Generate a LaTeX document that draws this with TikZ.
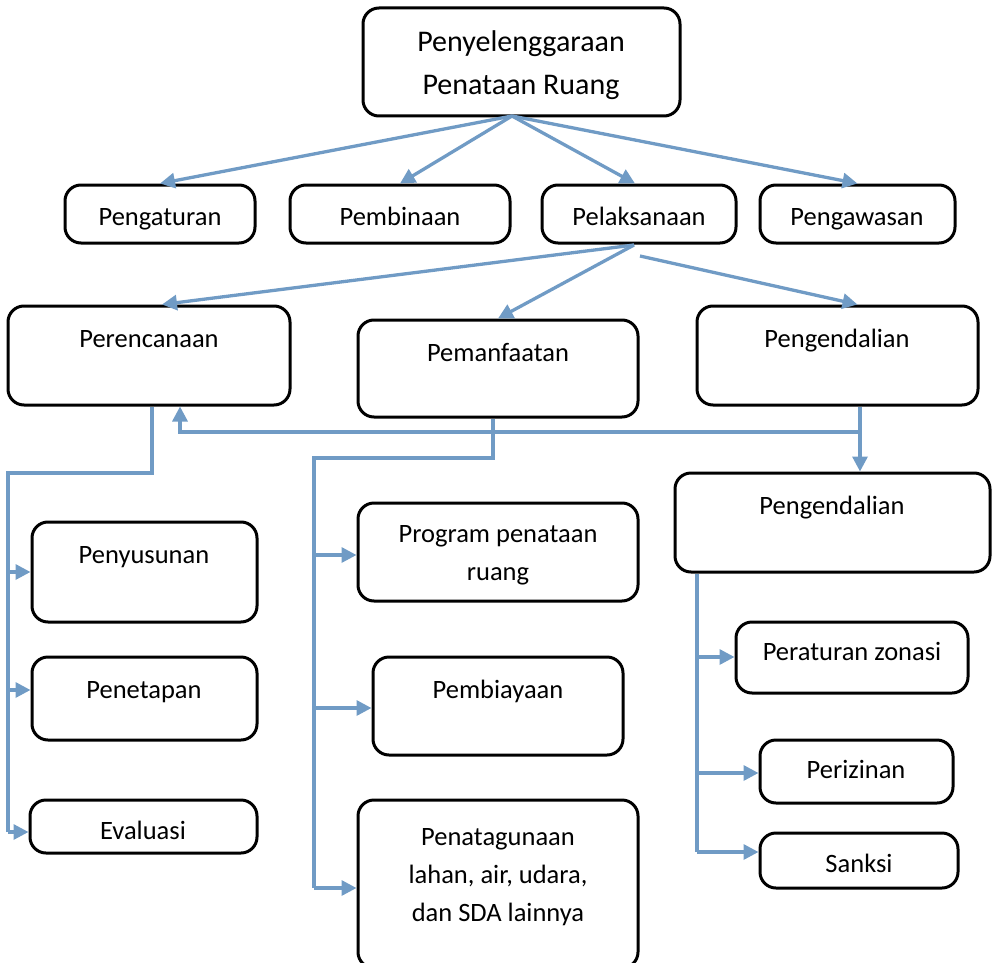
\documentclass[tikz,border=0pt]{standalone}
\usepackage{fontspec}
\setmainfont{Carlito}
\usetikzlibrary{arrows.meta,fit}
\definecolor{lnblue}{RGB}{112,155,197}
\begin{document}
\begin{tikzpicture}[x=1pt,y=-1pt,
  box/.style={draw=black,line width=3pt,rounded corners=16pt,inner sep=0pt},
  txt/.style={font=\fontsize{26.5}{38}\selectfont,align=center,inner sep=0pt,anchor=base},
  conn/.style={draw=lnblue,line width=3.3pt},
  arr/.style={conn,-{Triangle[length=15pt,width=15pt]}}]
\useasboundingbox (0,0) rectangle (998,963);
% boxes
\node[box,fit={(363,8) (680,116)}] (top) {};
\node[txt,font=\fontsize{30}{43}\selectfont] (topt) at (521,95) {Penyelenggaraan\\Penataan Ruang};
\node[box,fit={(65,185) (255,243)}] (atur) {};
\node[txt] (aturt) at (160,225) {Pengaturan};
\node[box,fit={(290,185) (510,243)}] (bina) {};
\node[txt] (binat) at (400,225) {Pembinaan};
\node[box,fit={(542,185) (736,243)}] (laks) {};
\node[txt] (lakst) at (639,225) {Pelaksanaan};
\node[box,fit={(760,185) (955,243)}] (awas) {};
\node[txt] (awast) at (857,225) {Pengawasan};
\node[box,fit={(8,306) (290,405)}] (ren) {};
\node[txt] (rent) at (149,347) {Perencanaan};
\node[box,fit={(358,320) (638,417)}] (man) {};
\node[txt] (mant) at (498,361) {Pemanfaatan};
\node[box,fit={(697,306) (978,405)}] (dal) {};
\node[txt] (dalt) at (837,347) {Pengendalian};
\node[box,fit={(675,473) (990,572)}] (dal2) {};
\node[txt] (dal2t) at (832,514) {Pengendalian};
\node[box,fit={(32,522) (257,622)}] (susun) {};
\node[txt] (susunt) at (144,563) {Penyusunan};
\node[box,fit={(32,657) (257,740)}] (tetap) {};
\node[txt] (tetapt) at (144,698) {Penetapan};
\node[box,fit={(30,800) (257,853)}] (eval) {};
\node[txt] (evalt) at (143,839) {Evaluasi};
\node[box,fit={(358,503) (638,601)}] (prog) {};
\node[txt] (progt) at (498,580) {Program penataan\\ruang};
\node[box,fit={(373,657) (623,755)}] (biaya) {};
\node[txt] (biayat) at (498,698) {Pembiayaan};
\node[box,fit={(358,800) (638,968)}] (guna) {};
\node[txt] (gunat) at (498,921) {Penatagunaan\\lahan, air, udara,\\dan SDA lainnya};
\node[box,fit={(736,622) (968,693)}] (zona) {};
\node[txt] (zonat) at (852,660) {Peraturan zonasi};
\node[box,fit={(760,740) (953,803)}] (izin) {};
\node[txt] (izint) at (856,778) {Perizinan};
\node[box,fit={(760,833) (958,888)}] (sank) {};
\node[txt] (sankt) at (859,872) {Sanksi};
% top arrows
\coordinate (o1) at (512,116);
\draw[arr] (o1) -- (atur.north);
\draw[arr] (o1) -- (bina.north);
\draw[arr] (o1) -- ([xshift=-4pt]laks.north);
\draw[arr] (o1) -- (awas.north);
% second level
\coordinate (o2) at (634,245);
\coordinate (o3) at (640,256);
\draw[arr] (o2) -- ([xshift=13pt]ren.north);
\draw[arr] (o2) -- (man.north);
\draw[arr] (o3) -- ([xshift=20pt]dal.north);
% feedback / pengendalian
\coordinate (j) at (860,432);
\coordinate (k) at (180,432);
\draw[arr] (dal.south -| j) -- (dal2.north -| j);
\draw[arr] (j) -- (k) -- (k |- ren.south);
% left trunk
\coordinate (l0) at (152,473);
\coordinate (l1) at (8,473);
\coordinate (l2) at (8,832);
\draw[conn] (ren.south -| l0) -- (l0) -- (l1) -- (l2);
\coordinate (la) at (8,572);
\coordinate (lb) at (8,690);
\draw[arr] (la) -- (la -| susun.west);
\draw[arr] (lb) -- (lb -| tetap.west);
\draw[arr] (l2) -- (l2 -| eval.west);
% middle trunk
\coordinate (m0) at (493,458);
\coordinate (m1) at (314,458);
\coordinate (m2) at (314,888);
\draw[conn] (man.south -| m0) -- (m0) -- (m1) -- (m2);
\coordinate (ma) at (314,555);
\coordinate (mb) at (314,708);
\draw[arr] (ma) -- (ma -| prog.west);
\draw[arr] (mb) -- (mb -| biaya.west);
\draw[arr] (m2) -- (m2 -| guna.west);
% right trunk
\coordinate (r0) at (697,852);
\draw[conn] (dal2.south -| r0) -- (r0);
\coordinate (ra) at (697,657);
\coordinate (rb) at (697,773);
\draw[arr] (ra) -- (ra -| zona.west);
\draw[arr] (rb) -- (rb -| izin.west);
\draw[arr] (r0) -- (r0 -| sank.west);
\end{tikzpicture}
\end{document}
